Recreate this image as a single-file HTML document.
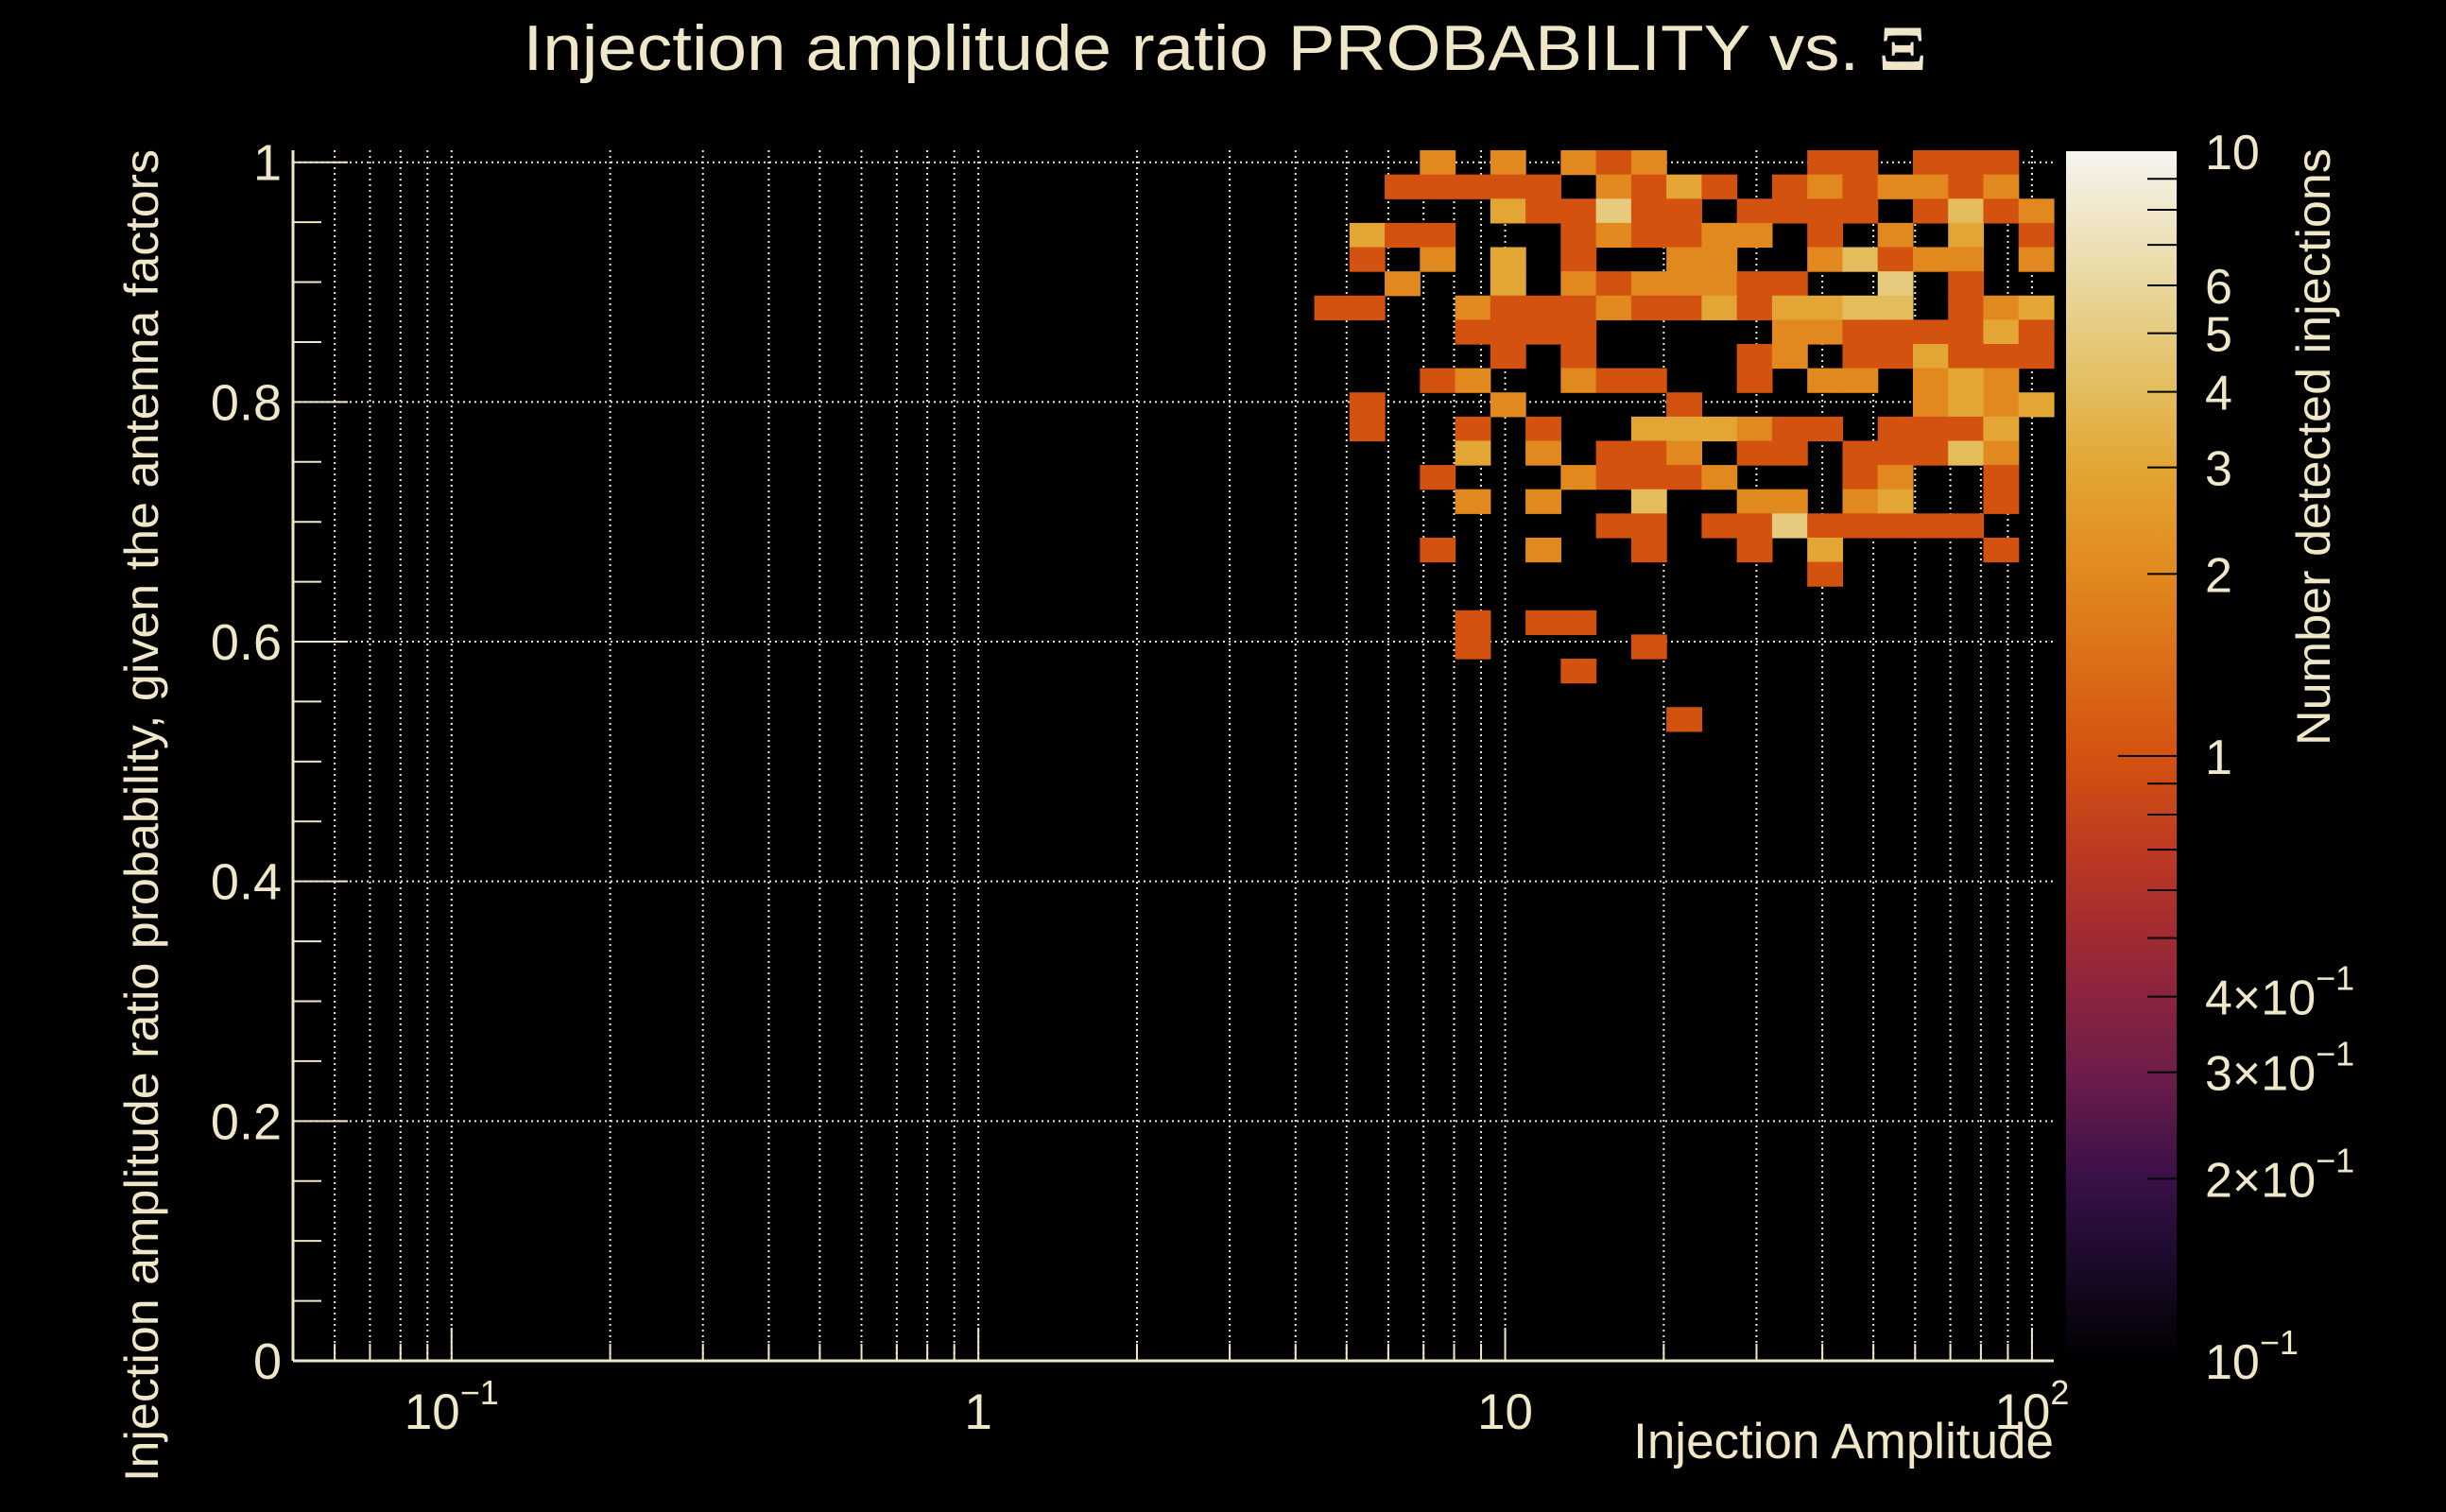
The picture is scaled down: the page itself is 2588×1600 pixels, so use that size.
<!DOCTYPE html>
<html><head><meta charset="utf-8"><title>Injection amplitude ratio chart</title>
<style>html,body{margin:0;padding:0;background:#000;}svg{display:block;}text{font-family:"Liberation Sans",sans-serif;fill:#F0E6C8;}</style></head>
<body>
<svg id="chart" width="2588" height="1600" viewBox="0 0 2588 1600" xmlns="http://www.w3.org/2000/svg">
<rect x="0" y="0" width="2588" height="1600" fill="#000"/>
<defs>
<linearGradient id="cbgrad" x1="0" y1="1" x2="0" y2="0"></linearGradient>
</defs>
<g id="grid"></g>
<g id="cells"></g>
<g id="axes"></g>
<g id="cbar"></g>
<text x="1296" y="74" font-size="68" text-anchor="middle" textLength="1485" lengthAdjust="spacingAndGlyphs">Injection amplitude ratio PROBABILITY vs.  <tspan font-family="Liberation Serif, serif" font-weight="bold">Ξ</tspan></text>
<text x="2173" y="1543" font-size="53" text-anchor="end">Injection Amplitude</text>
<text transform="translate(167,158) rotate(-90)" font-size="50" text-anchor="end" textLength="1410" lengthAdjust="spacingAndGlyphs">Injection amplitude ratio probability, given the antenna factors</text>
<text transform="translate(2465,157) rotate(-90)" font-size="50" text-anchor="end" textLength="632" lengthAdjust="spacingAndGlyphs">Number detected injections</text>
</svg>
<script>
// ---- data ----
const binRows = [49,48,47,46,45,44,43,42,41,40,39,38,37,36,35,34,33,32,30,29,28,26];
const binCols = [
 [32,34,36,37,38,43,44,46,47,48],
 [31,32,33,34,35,37,38,39,40,42,43,44,45,46,47,48],
 [34,35,36,37,38,39,41,42,43,44,46,47,48,49],
 [30,31,32,36,37,38,39,40,41,43,45,47,49],
 [30,32,34,36,39,40,43,44,45,46,47,49],
 [31,34,36,37,38,39,40,41,42,45,47],
 [29,30,33,34,35,36,37,38,39,40,41,42,43,44,45,47,48,49],
 [33,34,35,36,42,43,44,45,46,47,48,49],
 [34,36,41,42,44,45,46,47,48,49],
 [32,33,36,37,38,41,43,44,46,47,48],
 [30,34,39,46,47,48,49],
 [30,33,35,38,39,40,41,42,43,45,46,47,48],
 [33,35,37,38,39,41,42,44,45,46,47,48],
 [32,36,37,38,39,40,44,45,48],
 [33,35,38,41,42,44,45,48],
 [37,38,40,41,42,43,44,45,46,47],
 [32,35,38,41,43,48],
 [43],
 [33,35,36],
 [33,38],
 [36],
 [39]
];
const binCounts = [
 [2,2,2,1,2,1,1,1,1,1],
 [1,1,1,1,1,2,1,3,1,1,2,1,2,2,1,2],
 [3,1,1,5,1,1,1,1,1,1,1,4,1,2],
 [3,1,1,1,2,1,1,2,2,1,2,3,1],
 [1,2,3,1,2,2,2,4,1,2,2,2],
 [2,3,2,1,2,2,2,1,1,5,1],
 [1,1,2,1,1,1,2,1,1,3,1,3,3,4,4,1,2,3],
 [1,1,1,1,2,2,1,1,1,1,3,1],
 [1,1,1,2,1,1,3,1,1,1],
 [1,2,2,1,1,1,2,2,2,3,2],
 [1,2,1,2,3,2,3],
 [1,1,1,3,3,3,2,1,1,1,1,1,3],
 [3,2,1,1,2,1,1,1,1,1,4,2],
 [1,2,1,1,1,2,1,2,1],
 [2,2,4,2,2,2,3,1],
 [1,1,1,1,5,1,1,1,1,1],
 [1,2,1,1,3,1],
 [1],
 [1,1,1],
 [1,1],
 [1],
 [1]
];
const xMajorTicks = [0.1, 1, 10, 100];
const xMajorLabels = ["10", "1", "10", "10"];
const xMajorSup = ["−1", "", "", "2"];
const yTicks = [0, 0.2, 0.4, 0.6, 0.8, 1];
const yTickLabels = ["0", "0.2", "0.4", "0.6", "0.8", "1"];
const zTicks = [10, 6, 5, 4, 3, 2, 1, 0.4, 0.3, 0.2, 0.1];
const zTickLabels = ["10","6","5","4","3","2","1","4×10","3×10","2×10","10"];
const zTickSup = ["","","","","","","","−1","−1","−1","−1"];

// ---- axes ----
const NS = "http://www.w3.org/2000/svg";
const PL = 310, PR = 2173, PB = 1440;
const XMIN = 0.05, XMAX = 110, YMIN = 0, YMAX = 1.01, NBX = 50, NBY = 50;
const ZMIN = 0.1, ZMAX = 10;
const YUNIT = 1268.3;
function xScale(v){ return PL + (Math.log10(v) - Math.log10(XMIN)) / (Math.log10(XMAX) - Math.log10(XMIN)) * (PR - PL); }
function yScale(v){ return PB - (v - YMIN) * YUNIT; }
const PT = yScale(YMAX);
function xEdge(i){ return Math.pow(10, Math.log10(XMIN) + i * (Math.log10(XMAX) - Math.log10(XMIN)) / NBX); }
function yEdge(j){ return YMIN + j * (YMAX - YMIN) / NBY; }
const CB_L = 2186, CB_R = 2303, CB_T = 160, CB_B = 1440;
function zScale(v){ return CB_B - (Math.log10(v) - Math.log10(ZMIN)) / (Math.log10(ZMAX) - Math.log10(ZMIN)) * (CB_B - CB_T); }

const stops = [[0,"#000000"],[0.088,"#1E0B2E"],[0.151,"#3A1048"],[0.239,"#6E1D4A"],[0.301,"#8A2440"],[0.349,"#A02A33"],[0.423,"#BE3A22"],[0.5,"#D4520F"],[0.651,"#E1891E"],[0.739,"#E3A634"],[0.801,"#E3BC5C"],[0.849,"#E6CB7E"],[0.889,"#E9D79D"],[1,"#F6F4F0"]];
function hex2rgb(h){ return [parseInt(h.substr(1,2),16),parseInt(h.substr(3,2),16),parseInt(h.substr(5,2),16)]; }
function colorFor(v){
  let t = (Math.log10(v) - Math.log10(ZMIN)) / (Math.log10(ZMAX) - Math.log10(ZMIN));
  t = Math.max(0, Math.min(1, t));
  for (let i = 1; i < stops.length; i++){
    if (t <= stops[i][0]){
      const a = hex2rgb(stops[i-1][1]), b = hex2rgb(stops[i][1]);
      const f = (t - stops[i-1][0]) / (stops[i][0] - stops[i-1][0]);
      return "rgb(" + a.map((c,k)=>Math.round(c + (b[k]-c)*f)).join(",") + ")";
    }
  }
  return stops[stops.length-1][1];
}
function mk(tag, attrs, parent){ const e = document.createElementNS(NS, tag); for (const k in attrs) e.setAttribute(k, attrs[k]); parent.appendChild(e); return e; }

const grid = document.getElementById("grid");
const cells = document.getElementById("cells");
const axes = document.getElementById("axes");
const cbar = document.getElementById("cbar");
const GRIDC = "#F0E6C8";

const xAll = [];
for (let e = -2; e <= 2; e++) for (let m = 1; m <= 9; m++){ const v = m * Math.pow(10, e); if (v >= XMIN && v <= XMAX) xAll.push([v, m === 1]); }
xAll.forEach(([v, major]) => {
  const x = xScale(v);
  const g = mk("line", {x1:x, x2:x, y1:PT, y2:PB, stroke:GRIDC, "stroke-width":2, "stroke-dasharray":"2 4"}, grid);
  
  
  const t = mk("line", {x1:x, x2:x, y1:PB, y2:PB - (major ? 35 : 18), stroke:GRIDC, "stroke-width":2}, axes);
  
  
});
yTicks.forEach(v => {
  const y = yScale(v);
  const g = mk("line", {x1:PL, x2:PR, y1:y, y2:y, stroke:GRIDC, "stroke-width":2, "stroke-dasharray":"2 4"}, grid);
  
  
});
for (let k = 0; k <= 20; k++){
  const v = k * 0.05, y = yScale(v), major = (k % 4 === 0);
  const t = mk("line", {x1:PL, x2:PL + (major ? 58 : 30), y1:y, y2:y, stroke:GRIDC, "stroke-width":2}, axes);
  
  
}
binRows.forEach((r, ri) => {
  binCols[ri].forEach((c, ci) => {
    const x0 = xScale(xEdge(c)), x1 = xScale(xEdge(c+1));
    const y0 = yScale(yEdge(r+1)), y1 = yScale(yEdge(r));
    const rect = mk("rect", {x:x0, y:y0, width:x1-x0+0.6, height:y1-y0+0.6, fill:colorFor(binCounts[ri][ci])}, cells);
    
    
  });
});
const ax1 = mk("line", {x1:PL, x2:PL, y1:PT, y2:PB, stroke:GRIDC, "stroke-width":3}, axes);


const ax2 = mk("line", {x1:PL, x2:PR, y1:PB, y2:PB, stroke:GRIDC, "stroke-width":3}, axes);


xMajorTicks.forEach((v, i) => {
  const x = xScale(v);
  const t = mk("text", {x: x, y:1512, "font-size":53, "text-anchor":"middle"}, axes);
  
  
  t.textContent = xMajorLabels[i];
  if (xMajorSup[i]){
    const s = mk("tspan", {"font-size":36, dy:-26}, t);
    s.textContent = xMajorSup[i];
  }
});
yTicks.forEach((v, i) => {
  const t = mk("text", {x:298, y:yScale(v) + 19, "font-size":54, "text-anchor":"end"}, axes);
  
  
  t.textContent = yTickLabels[i];
});
const grad = document.getElementById("cbgrad");
stops.forEach(s => mk("stop", {offset:s[0], "stop-color":s[1]}, grad));
const cbr = mk("rect", {x:CB_L, y:CB_T, width:CB_R-CB_L, height:CB_B-CB_T, fill:"url(#cbgrad)"}, cbar);


for (let e = -1; e <= 0; e++) for (let m = 1; m <= 9; m++){
  const v = m * Math.pow(10, e);
  if (v <= ZMIN || v >= ZMAX) continue;
  const y = zScale(v);
  const t = mk("line", {x1:CB_R, x2:CB_R - (m === 1 ? 62 : 31), y1:y, y2:y, stroke:"#000", "stroke-width":2}, cbar);
  
  
}
zTicks.forEach((v, i) => {
  const t = mk("text", {x:2333, y:zScale(v) + 19, "font-size":52}, cbar);
  
  
  t.textContent = zTickLabels[i];
  if (zTickSup[i]){
    const s = mk("tspan", {"font-size":36, dy:-26}, t);
    s.textContent = zTickSup[i];
  }
});
</script>
</body></html>
